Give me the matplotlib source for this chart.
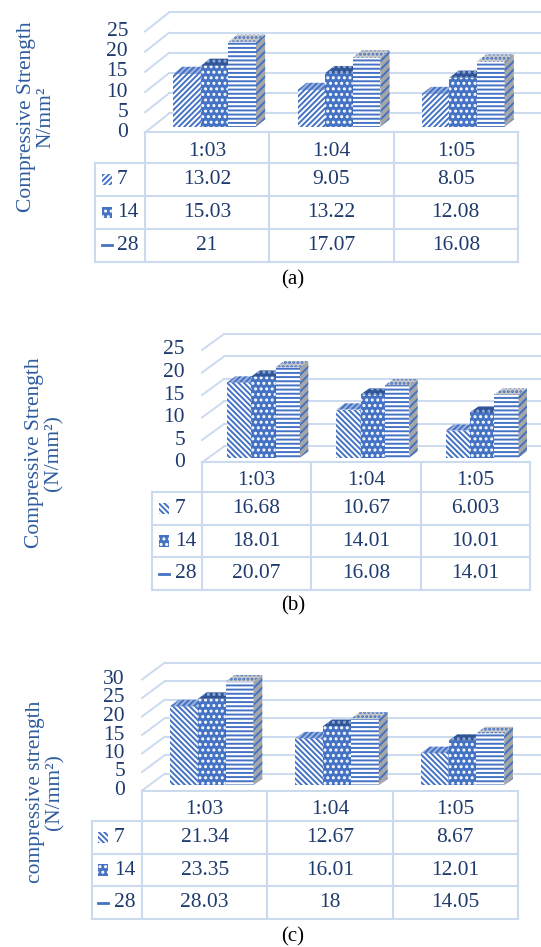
import matplotlib.pyplot as plt
from matplotlib.patches import Polygon, Rectangle

plt.rcParams['font.family'] = ['Liberation Serif', 'DejaVu Serif']
plt.rcParams['hatch.linewidth'] = 1.4

# data
ratios = ['1:03', '1:04', '1:05']
days = ['7', '14', '28']

a7 = [13.02, 9.05, 8.05]
a14 = [15.03, 13.22, 12.08]
a28 = [21, 17.07, 16.08]

b7 = [16.68, 10.67, 6.003]
b14 = [18.01, 14.01, 10.01]
b28 = [20.07, 16.08, 14.01]

c7 = [21.34, 12.67, 8.67]
c14 = [23.35, 16.01, 12.01]
c28 = [28.03, 18, 14.05]

ticks_ab = [0, 5, 10, 15, 20, 25]
ticks_c = [0, 5, 10, 15, 20, 25, 30]

ylab_a = 'Compressive Strength\nN/mm²'
ylab_b = 'Compressive Strength\n(N/mm²)'
ylab_c = 'compressive strength\n(N/mm²)'

W, H = 541, 947
BLUE = '#4472C4'
LINE = '#CCDAF0'
TXT = '#1F3B6E'
YLC = '#2E5C9E'
FS = 15.5

fig = plt.figure(figsize=(W / 100, H / 100), dpi=100)

# face styles per series: (front face, top face, side face) as (facecolor, hatchcolor, hatch)
styles = [
    (('white', BLUE, '//////'), ('#9DB3DE', BLUE, '//////'), ('#8EA6D6', BLUE, '//////')),
    ((BLUE, 'white', '...'), ('#2F5597', '#8FAADC', '...'), ('#2F5597', 'white', '...')),
    (('white', BLUE, '----'), ('#C8C8C8', BLUE, '....'), ('#A6A6A6', BLUE, '////')),
]


def panel(series, ticks, ylab, cap, hatch7, L):
    x0, x3, y0, ppu, dx, dy = L['x0'], L['x3'], L['y0'], L['ppu'], L['dx'], L['dy']
    ymax = ticks[-1]
    colw = (x3 - x0) / 3
    ax = fig.add_axes([x0 / W, 1 - y0 / H, (x3 - x0) / W, ymax * ppu / H])
    ax.set_xlim(0, 3)
    ax.set_ylim(0, ymax)
    ax.axis('off')
    DX, DY = dx / colw, dy / ppu

    # grid: diagonals on the left wall and lines on the back wall
    for t in ticks:
        ax.plot([0, DX], [t, t + DY], color=LINE, lw=1.4, clip_on=False, zorder=1)
        ax.plot([DX, 3 + DX], [t + DY, t + DY], color=LINE, lw=1.4, clip_on=False, zorder=1)
        ax.text(-17 / colw, t, str(t), ha='right', va='center', fontsize=FS,
                color=TXT, clip_on=False)

    bw = 0.222
    f, d = 0.31, 0.38
    z = 2
    for i in range(3):
        for j, vals in enumerate(series):
            v = vals[i]
            st = styles[j]
            hfront = hatch7 if j == 0 else st[0][2]
            xl = i + 0.5 - 1.5 * bw + j * bw + f * DX
            b = f * DY
            top = b + v
            ax.bar(xl, v, width=bw, bottom=b, align='edge', color=st[0][0],
                   edgecolor=st[0][1], hatch=hfront, linewidth=0, zorder=z)
            ddx, ddy = d * DX, d * DY
            ax.add_patch(Polygon([(xl, top), (xl + bw, top), (xl + bw + ddx, top + ddy),
                                  (xl + ddx, top + ddy)], closed=True, facecolor=st[1][0],
                                 edgecolor=st[1][1], hatch=st[1][2], linewidth=0,
                                 zorder=z, clip_on=False))
            ax.add_patch(Polygon([(xl + bw, b), (xl + bw + ddx, b + ddy),
                                  (xl + bw + ddx, top + ddy), (xl + bw, top)], closed=True,
                                 facecolor=st[2][0], edgecolor=st[2][1], hatch=st[2][2],
                                 linewidth=0, zorder=z, clip_on=False))
            z += 1

    # data table
    ll = L['lab']
    rows = L['rows']
    LW = (x0 - ll) / colw
    rowh = (rows[-1] - rows[0]) / 3
    hh = (rows[0] - y0) / rowh
    tb = fig.add_axes([ll / W, 1 - rows[-1] / H, (x3 - ll) / W, (rows[-1] - y0) / H])
    tb.set_xlim(-LW, 3)
    tb.set_ylim(hh + 3, 0)
    tb.axis('off')
    lk = dict(color=LINE, lw=1.5, clip_on=False)
    tb.plot([0, 3], [0, 0], **lk)
    for k in range(4):
        tb.plot([-LW, 3], [hh + k, hh + k], **lk)
        tb.plot([k, k], [0, hh + 3], **lk)
    tb.plot([-LW, -LW], [hh, hh + 3], **lk)
    for i, r in enumerate(ratios):
        tb.text(i + 0.5, hh * 0.62, r, ha='center', va='center', fontsize=FS, color=TXT)
    for j, vals in enumerate(series):
        yc = hh + j + 0.5
        for i, v in enumerate(vals):
            tb.text(i + 0.5, yc, f'{v:g}', ha='center', va='center', fontsize=FS, color=TXT)
        ix = -LW + (L['icon'] - ll) / colw
        iw = 10 / colw
        if j == 2:
            tb.plot([ix, ix + iw], [yc, yc], color=BLUE, lw=2, clip_on=False)
        else:
            st = styles[j][0]
            tb.add_patch(Rectangle((ix, yc - 0.17), iw, 0.34, facecolor=st[0],
                                   edgecolor=st[1], hatch=hatch7 if j == 0 else '...',
                                   linewidth=0, clip_on=False))
        tb.text(-LW + (L['txt'] - ll) / colw, yc, days[j], ha='left', va='center',
                fontsize=FS, color=TXT)

    fig.text(L['yl'][0] / W, 1 - L['yl'][1] / H, ylab, rotation=90, ha='center',
             va='center', fontsize=15.5, color=YLC, multialignment='center',
             linespacing=1.0)
    fig.text(293 / W, 1 - L['cap'] / H, cap, ha='center', va='center', fontsize=15,
             color='black')


panel([a7, a14, a28], ticks_ab, ylab_a, '(a)', '//////',
      dict(x0=145, x3=518, y0=132.5, ppu=4.04, dx=24, dy=19, lab=95,
           rows=[163, 196, 229, 262], icon=102, txt=117, yl=(36, 117), cap=280))
panel([b7, b14, b28], ticks_ab, ylab_b, '(b)', '\\\\\\\\\\\\',
      dict(x0=202, x3=530, y0=462.5, ppu=4.5, dx=22, dy=16, lab=152,
           rows=[492, 524, 557, 590], icon=159, txt=175, yl=(44, 453), cap=606))
panel([c7, c14, c28], ticks_c, ylab_c, '(c)', '\\\\\\\\\\\\',
      dict(x0=142, x3=518, y0=790.5, ppu=3.7, dx=23, dy=17, lab=92,
           rows=[821, 854, 887, 919], icon=98, txt=114, yl=(45, 792), cap=937))

fig.savefig('out.png', dpi=100)
